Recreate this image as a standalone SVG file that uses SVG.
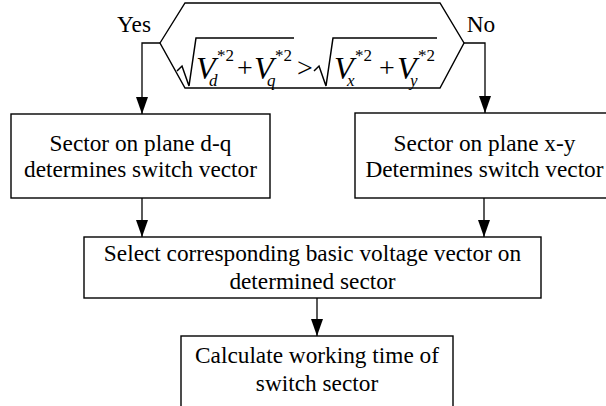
<svg xmlns="http://www.w3.org/2000/svg" width="606" height="406" viewBox="0 0 606 406">
<defs>
<style>
.box{fill:#fff;stroke:#000;stroke-width:1.4}
.t{font-family:"Liberation Serif","Times New Roman",serif;font-size:23.3px;fill:#000;text-anchor:middle}
.m{font-family:"Liberation Serif","Times New Roman",serif;fill:#000}
.v{font-size:32px;font-style:italic}
.s{font-size:17px;font-style:italic}
.p{font-size:17px}
.o{font-size:28px}
.c{fill:none;stroke:#000;stroke-width:1.3}
.r{fill:none;stroke:#000;stroke-width:1.5;stroke-linejoin:miter}
</style>
<marker id="ah" markerWidth="17" markerHeight="12" refX="17" refY="6" orient="auto" markerUnits="userSpaceOnUse" viewBox="0 0 17 12">
<path d="M0,0 L17,6 L0,12 Z" fill="#000"/>
</marker>
</defs>
<rect width="606" height="406" fill="#fff"/>
<g id="decision">
<polygon class="box" points="160,43 185,3 440,3 464,43 440,88 185,88"/>
<path class="r" d="M177,71 L182,66 L189,86 L196,38 L294,38"/>
<path class="r" d="M314,71 L319,66 L326,86 L333,38 L437,38"/>
<text class="m v" x="196" y="79">V</text>
<text class="m s" x="209" y="86">d</text>
<text class="m p" x="217" y="61">*2</text>
<text class="m o" x="237" y="77">+</text>
<text class="m v" x="254" y="79">V</text>
<text class="m s" x="267" y="86">q</text>
<text class="m p" x="275" y="61">*2</text>
<text class="m o" x="297" y="77">&gt;</text>
<text class="m v" x="334" y="79">V</text>
<text class="m s" x="347" y="86">x</text>
<text class="m p" x="355" y="61">*2</text>
<text class="m o" x="379" y="77">+</text>
<text class="m v" x="397" y="79">V</text>
<text class="m s" x="410" y="86">y</text>
<text class="m p" x="418" y="61">*2</text>
</g>
<g id="label-yes"><text class="t" x="134" y="32">Yes</text></g>
<g id="label-no"><text class="t" x="481" y="32">No</text></g>
<g id="box-dq">
<rect class="box" x="11" y="114" width="259" height="84"/>
<text class="t" x="140.5" y="151">Sector on plane d-q</text>
<text class="t" x="140.5" y="177">determines switch vector</text>
</g>
<g id="box-xy">
<rect class="box" x="355" y="113" width="260" height="85"/>
<text class="t" x="484.5" y="151">Sector on plane x-y</text>
<text class="t" x="484.5" y="177">Determines switch vector</text>
</g>
<g id="box-select">
<rect class="box" x="84" y="237" width="457" height="61"/>
<text class="t" x="312.5" y="261">Select corresponding basic voltage vector on</text>
<text class="t" x="312.5" y="289">determined sector</text>
</g>
<g id="box-calc">
<rect class="box" x="181" y="336" width="272" height="80"/>
<text class="t" x="317" y="363">Calculate working time of</text>
<text class="t" x="317" y="391">switch sector</text>
</g>
<g id="connectors">
<path class="c" d="M160,43 H142 V114" marker-end="url(#ah)"/>
<path class="c" d="M464,43 H485 V113" marker-end="url(#ah)"/>
<path class="c" d="M142,198 V237" marker-end="url(#ah)"/>
<path class="c" d="M484,198 V237" marker-end="url(#ah)"/>
<path class="c" d="M317,298 V336" marker-end="url(#ah)"/>
</g>
</svg>
